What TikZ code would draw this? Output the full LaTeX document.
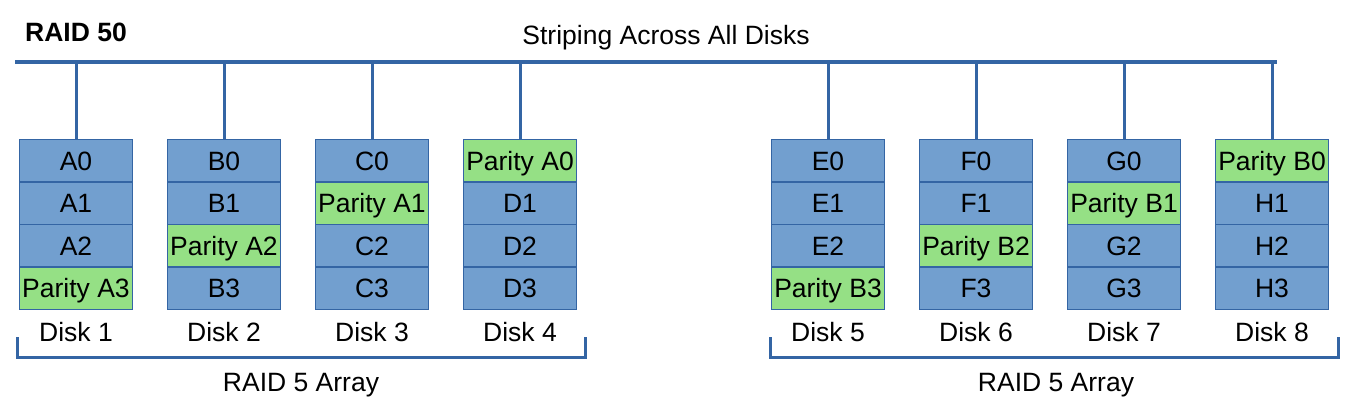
\documentclass[tikz,border=0pt]{standalone}
\usepackage{fontspec}
\setmainfont{Liberation Sans}
\usetikzlibrary{positioning}

\definecolor{cellblue}{RGB}{114,159,207}
\definecolor{cellgreen}{RGB}{149,224,133}
\definecolor{edgeblue}{RGB}{52,101,164}

\tikzset{
	cell/.style={draw=edgeblue, line width=1.5pt, fill=cellblue, minimum width=113pt, minimum height=42.5pt, inner sep=0pt, outer sep=0pt, text height=19pt, text depth=0pt, font=\fontsize{26.5}{30}\selectfont},
	par/.style={cell, fill=cellgreen},
	lbl/.style={inner sep=0pt, anchor=base, font=\fontsize{26.5}{30}\selectfont},
	bus/.style={edgeblue, line width=4pt},
	link/.style={edgeblue, line width=3pt}
}

\begin{document}
\begin{tikzpicture}[x=1pt, y=-1pt]
		\useasboundingbox (0,0) rectangle (1356,405);
		
		\node[lbl, anchor=base west, font=\fontsize{26.5}{30}\selectfont\bfseries] (title) at (25,41) {RAID 50};
		\node[lbl] (striping) at (666,44) {Striping Across All Disks};
		
		% first array
		\node[cell] (A0) at (76,160.5) {A0};
		\node[cell, below=0pt of A0] (A1) {A1};
		\node[cell, below=0pt of A1] (A2) {A2};
		\node[par, below=0pt of A2] (pA3) {Parity A3};
		
		\node[cell, right=35pt of A0] (B0) {B0};
		\node[cell, below=0pt of B0] (B1) {B1};
		\node[par, below=0pt of B1] (pA2) {Parity A2};
		\node[cell, below=0pt of pA2] (B3) {B3};
		
		\node[cell, right=35pt of B0] (C0) {C0};
		\node[par, below=0pt of C0] (pA1) {Parity A1};
		\node[cell, below=0pt of pA1] (C2) {C2};
		\node[cell, below=0pt of C2] (C3) {C3};
		
		\node[par, right=35pt of C0] (pA0) {Parity A0};
		\node[cell, below=0pt of pA0] (D1) {D1};
		\node[cell, below=0pt of D1] (D2) {D2};
		\node[cell, below=0pt of D2] (D3) {D3};
		
		% second array
		\node[cell] (E0) at (828,160.5) {E0};
		\node[cell, below=0pt of E0] (E1) {E1};
		\node[cell, below=0pt of E1] (E2) {E2};
		\node[par, below=0pt of E2] (pB3) {Parity B3};
		
		\node[cell, right=35pt of E0] (F0) {F0};
		\node[cell, below=0pt of F0] (F1) {F1};
		\node[par, below=0pt of F1] (pB2) {Parity B2};
		\node[cell, below=0pt of pB2] (F3) {F3};
		
		\node[cell, right=35pt of F0] (G0) {G0};
		\node[par, below=0pt of G0] (pB1) {Parity B1};
		\node[cell, below=0pt of pB1] (G2) {G2};
		\node[cell, below=0pt of G2] (G3) {G3};
		
		\node[par, right=35pt of G0] (pB0) {Parity B0};
		\node[cell, below=0pt of pB0] (H1) {H1};
		\node[cell, below=0pt of H1] (H2) {H2};
		\node[cell, below=0pt of H2] (H3) {H3};
		
		% disk names
		\node[lbl] (disk1) at (pA3.center |- 0,341) {Disk 1};
		\node[lbl] (disk2) at (B3.center |- 0,341) {Disk 2};
		\node[lbl] (disk3) at (C3.center |- 0,341) {Disk 3};
		\node[lbl] (disk4) at (D3.center |- 0,341) {Disk 4};
		\node[lbl] (disk5) at (pB3.center |- 0,341) {Disk 5};
		\node[lbl] (disk6) at (F3.center |- 0,341) {Disk 6};
		\node[lbl] (disk7) at (G3.center |- 0,341) {Disk 7};
		\node[lbl] (disk8) at (H3.center |- 0,341) {Disk 8};
		
		% striping bus
		\coordinate (busL) at (15,62);
		\coordinate (busR) at (1277,62);
		\draw[bus] (busL) -- (busR);
		\draw[link] (A0.north |- busL) -- (A0.north);
		\draw[link] (B0.north |- busL) -- (B0.north);
		\draw[link] (C0.north |- busL) -- (C0.north);
		\draw[link] (pA0.north |- busL) -- (pA0.north);
		\draw[link] (E0.north |- busL) -- (E0.north);
		\draw[link] (F0.north |- busL) -- (F0.north);
		\draw[link] (G0.north |- busL) -- (G0.north);
		\draw[link] (pB0.north |- busL) -- (pB0.north);
		
		% array brackets
		\coordinate (br1L) at (17,337);
		\coordinate (br1R) at (585,337);
		\draw[link] (br1L) -- ++(0,20) -| (br1R);
		\node[lbl] (array1) at (301,391) {RAID 5 Array};
		
		\coordinate (br2L) at (770,337);
		\coordinate (br2R) at (1338,337);
		\draw[link] (br2L) -- ++(0,20) -| (br2R);
		\node[lbl] (array2) at (1056,391) {RAID 5 Array};
		\end{tikzpicture}
\end{document}
